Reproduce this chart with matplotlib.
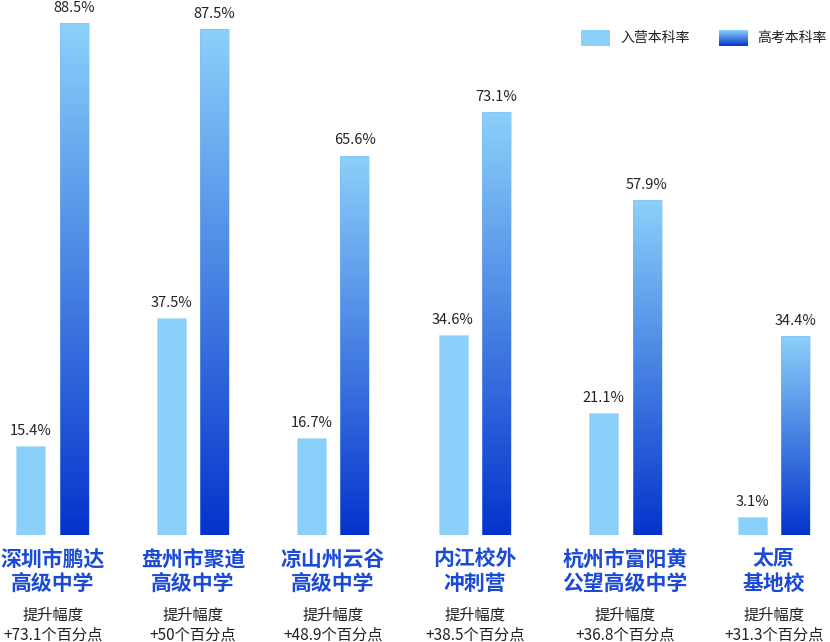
import matplotlib
matplotlib.use("Agg")
import matplotlib.pyplot as plt
import numpy as np
from matplotlib.colors import LinearSegmentedColormap
from matplotlib.patches import Rectangle

plt.rcParams['font.family'] = ['Noto Sans CJK SC', 'DejaVu Sans']

schools = ["深圳市鹏达\n高级中学", "盘州市聚道\n高级中学", "凉山州云谷\n高级中学",
           "内江校外\n冲刺营", "杭州市富阳黄\n公望高级中学", "太原\n基地校"]
entry_rate = [15.4, 37.5, 16.7, 34.6, 21.1, 3.1]
gaokao_rate = [88.5, 87.5, 65.6, 73.1, 57.9, 34.4]
increase = ["+73.1", "+50", "+48.9", "+38.5", "+36.8", "+31.3"]
legend_labels = ["入营本科率", "高考本科率"]

# layout (pixel-based x positions of group centres)
centers = [52.6, 193.0, 333.0, 474.7, 625.3, 773.8]
W, H = 830, 642
fig = plt.figure(figsize=(W / 100, H / 100), dpi=100)
base_px = 535
ax = fig.add_axes([0, (H - base_px) / H, 1, base_px / H])
ax.set_xlim(0, W)
ax.set_ylim(0, 92.5)
ax.axis('off')

light = '#8AD0FA'
cmap = LinearSegmentedColormap.from_list('g', ['#0433CC', '#4782E3', '#8BD1FA'])
grad = np.linspace(0, 1, 256).reshape(-1, 1)
bw = 29
off = 21.7

for i, c in enumerate(centers):
    x1 = c - off
    x2 = c + off
    ax.bar(x1, entry_rate[i], width=bw, color=light, edgecolor='#B5E0FB', linewidth=0.6)
    bar2 = ax.bar(x2, gaokao_rate[i], width=bw, color='none', edgecolor=(0.55, 0.7, 0.95, 0.5),
                  linewidth=0.6, zorder=3)
    rect = bar2[0]
    im = ax.imshow(grad, cmap=cmap, origin='lower', aspect='auto',
                   extent=[x2 - bw / 2, x2 + bw / 2, 0, gaokao_rate[i]], zorder=2)
    im.set_clip_path(rect)
    ax.annotate(f"{entry_rate[i]}%", (x1, entry_rate[i]), xytext=(0, 6), textcoords='offset points',
                ha='center', va='bottom', fontsize=10.5, color='#222222')
    ax.annotate(f"{gaokao_rate[i]}%", (x2, gaokao_rate[i]), xytext=(0, 6), textcoords='offset points',
                ha='center', va='bottom', fontsize=10.5, color='#222222')
    fig.text(c / W, 1 - 571 / H, schools[i], ha='center', va='center', fontsize=15,
             fontweight='bold', color='#1A4AD6', linespacing=1.2)
    fig.text(c / W, 1 - 625 / H, f"提升幅度\n{increase[i]}个百分点", ha='center', va='center',
             fontsize=11, fontweight='medium', color='#222222', linespacing=1.25)

ax.set_xlim(0, W)

# legend
fig.patches.append(Rectangle((581 / W, 1 - 46 / H), 29 / W, 16 / H, transform=fig.transFigure,
                             facecolor=light, edgecolor='none'))
lax = fig.add_axes([719 / W, 1 - 46 / H, 29 / W, 16 / H])
lax.imshow(grad, cmap=cmap, origin='lower', aspect='auto', extent=[0, 1, 0, 1])
lax.axis('off')
fig.text(620 / W, 1 - 38 / H, legend_labels[0], ha='left', va='center', fontsize=10, color='#222222')
fig.text(757 / W, 1 - 38 / H, legend_labels[1], ha='left', va='center', fontsize=10, color='#222222')

fig.savefig('out.png', dpi=100)
